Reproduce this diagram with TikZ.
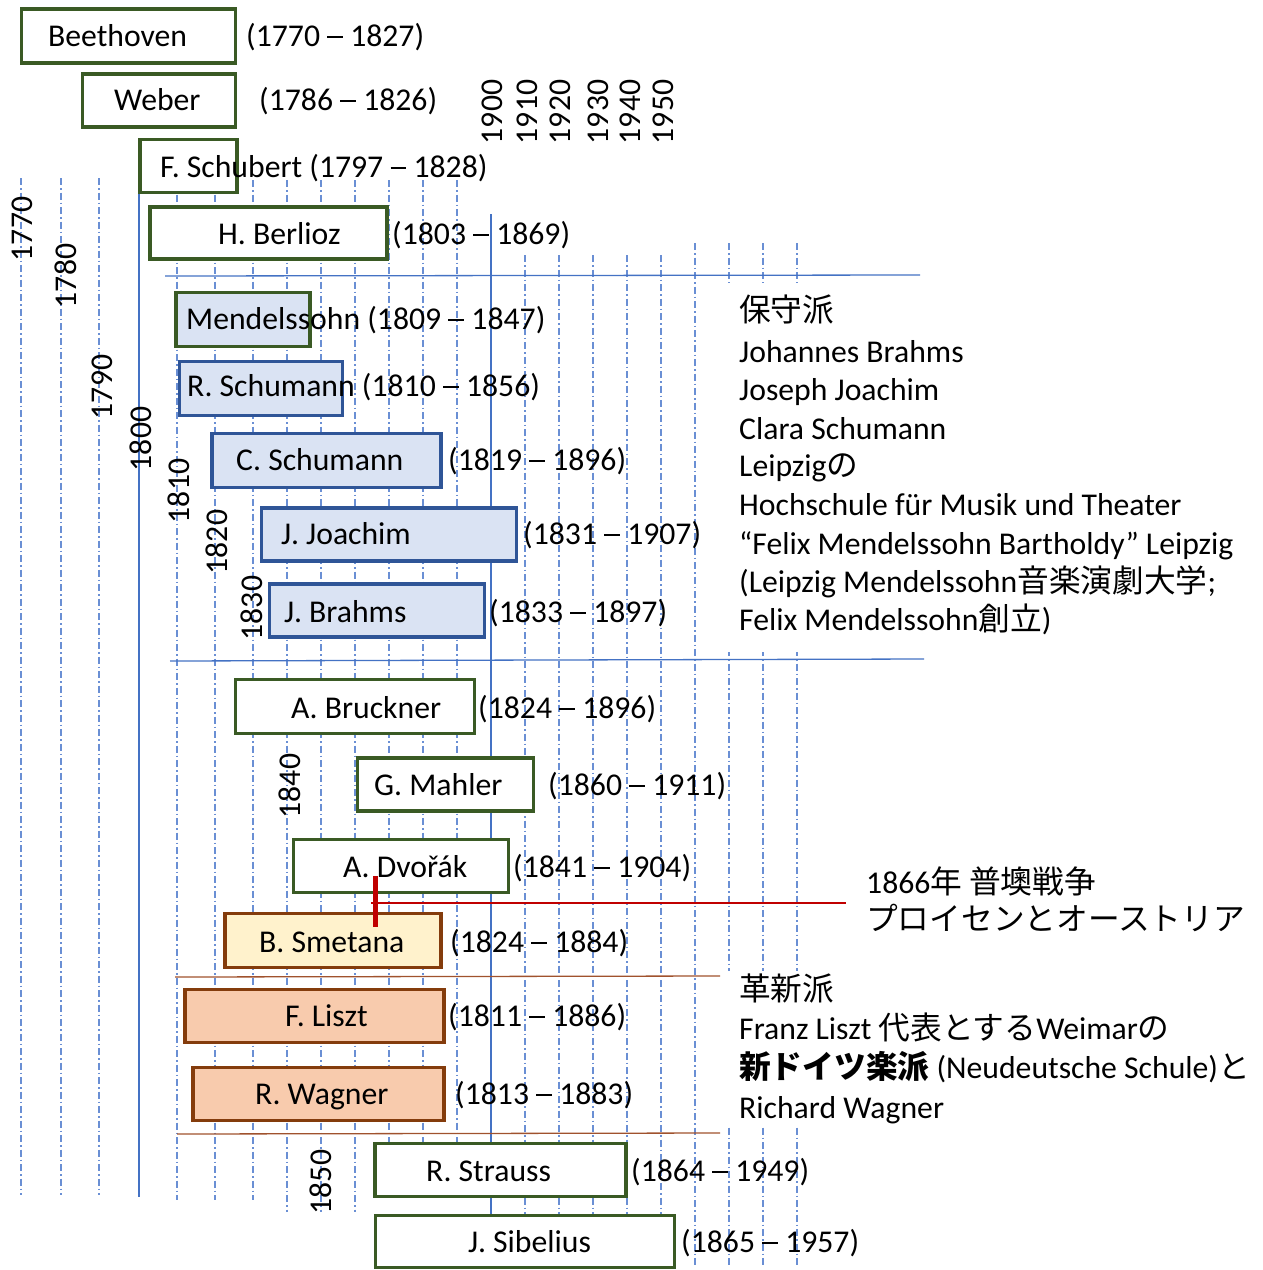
\documentclass[tikz,border=0pt]{standalone}
\usepackage{fontspec}
\setmainfont{Carlito}
\newfontfamily\cjk{Noto Sans CJK JP}
\newcommand\jtext[1]{{\cjk #1}}
\newcommand\yrdash{\rule[0.24em]{0.5em}{0.065em}}
\definecolor{gridblue}{HTML}{6A8FD4}
\definecolor{axisblue}{HTML}{4472C4}
\definecolor{boxgreen}{HTML}{3A5A24}
\definecolor{boxblue}{HTML}{2F5597}
\definecolor{fillblue}{HTML}{DAE3F3}
\definecolor{boxbrown}{HTML}{843C0C}
\definecolor{fillyellow}{HTML}{FFF2CC}
\definecolor{fillpeach}{HTML}{F8CBAD}
\definecolor{linebrown}{HTML}{A0522D}
\definecolor{warred}{HTML}{C00000}
\begin{document}
\begin{tikzpicture}[x=1pt,y=-1pt,
  every node/.style={font=\fontsize{31.7}{38}\selectfont},
  gridl/.style={draw=gridblue, line width=1.4pt, dash pattern=on 7pt off 3pt on 1.5pt off 3pt},
  axisl/.style={draw=axisblue, line width=1.6pt},
  hblue/.style={draw=axisblue, line width=1.3pt},
  hbrown/.style={draw=linebrown, line width=1.3pt},
  boxbase/.style={line width=3.2pt, inner sep=0pt, outer sep=0pt, anchor=north west},
  gbox/.style={boxbase, draw=boxgreen, fill=white},
  bgbox/.style={boxbase, draw=boxgreen, fill=fillblue},
  bbox/.style={boxbase, draw=boxblue, fill=fillblue},
  ybox/.style={boxbase, draw=boxbrown, fill=fillyellow},
  pbox/.style={boxbase, draw=boxbrown, fill=fillpeach},
  lbl/.style={anchor=west, inner sep=0pt, text height=22pt, text depth=7pt},
  yr/.style={rotate=90, inner sep=0pt}
]
\useasboundingbox (0,0) rectangle (1263,1270);
\fill[white] (0,0) rectangle (1263,1270);

% grid lines
\foreach \x in {21,61,99} \draw[gridl] (\x,178) -- (\x,1195);
\foreach \x in {177,215,253} \draw[gridl] (\x,180) -- (\x,1200);
\foreach \x in {287,321,355} \draw[gridl] (\x,180) -- (\x,1212);
\foreach \x in {389,423,457} \draw[gridl] (\x,180) -- (\x,1143);
\foreach \x in {525,559,593,627,661} \draw[gridl] (\x,255) -- (\x,1265);
\foreach \x in {695,729,763,797} \draw[gridl] (\x,243) -- (\x,1265);
\draw[axisl] (139,193) -- (139,1197);
\draw[axisl] (491,214) -- (491,1240);

% white backgrounds of the text blocks
\fill[white] (714,283) rectangle (1250,652);
\fill[white] (716,971) rectangle (1255,1126);

% separators
\draw[hblue] (165,276) -- (920,275);
\draw[hblue] (170,661) -- (924,659);
\draw[hbrown] (175,977) -- (720,976);
\draw[hbrown] (177,1134) -- (720,1133);
\coordinate (warL) at (371,903);
\coordinate (warR) at (846,903);
\draw[warred, line width=1.4pt] (warL) -- (warR);

% composer boxes
\node[gbox, minimum width=214pt, minimum height=54pt] (beet) at (21.5,9) {};
\node[gbox, minimum width=153pt, minimum height=53pt] (weber) at (82.5,74) {};
\node[gbox, minimum width=97pt, minimum height=53pt] (schub) at (140,139.5) {};
\node[gbox, minimum width=237pt, minimum height=52pt] (berl) at (150,207) {};
\node[bgbox, minimum width=134pt, minimum height=54pt] (mend) at (176,292.5) {};
\node[bbox, minimum width=163pt, minimum height=54pt] (rschu) at (179.5,361.5) {};
\node[bbox, minimum width=229pt, minimum height=54pt] (cschu) at (212,433.5) {};
\node[bbox, minimum width=255pt, minimum height=53pt] (joach) at (261.5,508) {};
\node[bbox, minimum width=215pt, minimum height=53pt] (brahms) at (269.5,584) {};
\node[gbox, minimum width=239pt, minimum height=54pt] (bruck) at (235.5,679.5) {};
\node[gbox, minimum width=176pt, minimum height=53pt] (mahler) at (357.5,758) {};
\node[gbox, minimum width=215pt, minimum height=53pt] (dvorak) at (293.5,839.5) {};
\node[ybox, minimum width=216pt, minimum height=54pt] (smet) at (225,913.5) {};
\node[pbox, minimum width=259pt, minimum height=53pt] (liszt) at (185,989.5) {};
\node[pbox, minimum width=251pt, minimum height=53pt] (wagner) at (193,1067.5) {};
\node[gbox, minimum width=251pt, minimum height=53pt] (strauss) at (375,1143.5) {};
\node[gbox, minimum width=299pt, minimum height=52pt] (sibel) at (375.5,1215.5) {};

% names and dates
\node[lbl] (tbeet) at (48,38.5) {Beethoven};
\node[lbl] (dbeet) at (246,38.5) {(1770 \yrdash{} 1827)};
\node[lbl] (tweber) at (114,102.5) {Weber};
\node[lbl] (dweber) at (259,102.5) {(1786 \yrdash{} 1826)};
\node[lbl] (tschub) at (160,169.5) {F. Schubert (1797 \yrdash{} 1828)};
\node[lbl] (tberl) at (218,236.5) {H. Berlioz};
\node[lbl] (dberl) at (392,236.5) {(1803 \yrdash{} 1869)};
\node[lbl] (tmend) at (186,321.5) {Mendelssohn (1809 \yrdash{} 1847)};
\node[lbl] (trschu) at (187,388.5) {R. Schumann (1810 \yrdash{} 1856)};
\node[lbl] (tcschu) at (236,462.5) {C. Schumann};
\node[lbl] (dcschu) at (448,462.5) {(1819 \yrdash{} 1896)};
\node[lbl] (tjoach) at (281,536.5) {J. Joachim};
\node[lbl] (djoach) at (523,536.5) {(1831 \yrdash{} 1907)};
\node[lbl] (tbrahms) at (284,614.5) {J. Brahms};
\node[lbl] (dbrahms) at (489,614.5) {(1833 \yrdash{} 1897)};
\node[lbl] (tbruck) at (291,710.5) {A. Bruckner};
\node[lbl] (dbruck) at (478,710.5) {(1824 \yrdash{} 1896)};
\node[lbl] (tmahler) at (374,787.5) {G. Mahler};
\node[lbl] (dmahler) at (548,787.5) {(1860 \yrdash{} 1911)};
\node[lbl] (tdvorak) at (343,869.5) {A. Dvořák};
\node[lbl] (ddvorak) at (513,869.5) {(1841 \yrdash{} 1904)};
\node[lbl] (tsmet) at (259,944.5) {B. Smetana};
\node[lbl] (dsmet) at (450,944.5) {(1824 \yrdash{} 1884)};
\node[lbl] (tliszt) at (285,1018.5) {F. Liszt};
\node[lbl] (dliszt) at (448,1018.5) {(1811 \yrdash{} 1886)};
\node[lbl] (twagner) at (255,1096.5) {R. Wagner};
\node[lbl] (dwagner) at (455,1096.5) {(1813 \yrdash{} 1883)};
\node[lbl] (tstrauss) at (426,1173.5) {R. Strauss};
\node[lbl] (dstrauss) at (631,1173.5) {(1864 \yrdash{} 1949)};
\node[lbl] (tsibel) at (468,1244.5) {J. Sibelius};
\node[lbl] (dsibel) at (681,1244.5) {(1865 \yrdash{} 1957)};

% year labels
\node[yr] (y1770) at (22.5,229) {1770};
\node[yr] (y1780) at (65.5,276) {1780};
\node[yr] (y1790) at (102,387) {1790};
\node[yr] (y1800) at (141,439) {1800};
\node[yr] (y1810) at (179,491) {1810};
\node[yr] (y1820) at (217,542) {1820};
\node[yr] (y1830) at (252,608) {1830};
\node[yr] (y1840) at (290,786) {1840};
\node[yr] (y1850) at (321,1182) {1850};
\node[yr] (y1900) at (492,112) {1900};
\node[yr] (y1910) at (527,112) {1910};
\node[yr] (y1920) at (560,112) {1920};
\node[yr] (y1930) at (598,112) {1930};
\node[yr] (y1940) at (630,112) {1940};
\node[yr] (y1950) at (663,112) {1950};

% conservative block
\node[lbl] (c1) at (739,313.5) {\jtext{保守派}};
\node[lbl] (c2) at (739,354.5) {Johannes Brahms};
\node[lbl] (c3) at (739,392.5) {Joseph Joachim};
\node[lbl] (c4) at (739,431.5) {Clara Schumann};
\node[lbl] (c5) at (739,468.5) {Leipzig\jtext{の}};
\node[lbl] (c6) at (739,507.5) {Hochschule für Musik und Theater};
\node[lbl] (c7) at (739,546.5) {“Felix Mendelssohn Bartholdy” Leipzig};
\node[lbl] (c8) at (739,584.5) {(Leipzig Mendelssohn\jtext{音楽演劇大学};};
\node[lbl] (c9) at (739,622.5) {Felix Mendelssohn\jtext{創立})};

% war note
\node[lbl] (w1) at (866,885.5) {1866\jtext{年 普墺戦争}};
\node[lbl] (w2) at (866,922.5) {\jtext{プロイセンとオーストリア}};

% progressive block
\node[lbl] (p1) at (739,992.5) {\jtext{革新派}};
\node[lbl] (p2) at (739,1031.5) {Franz Liszt \jtext{代表とする}Weimar\jtext{の}};
\node[lbl] (p3) at (739,1070.5) {{\cjk\bfseries 新ドイツ楽派} (Neudeutsche Schule)\jtext{と}};
\node[lbl] (p4) at (739,1110.5) {Richard Wagner};

% war marker
\coordinate (warT) at (375,876);
\coordinate (warB) at (375,927);
\draw[warred, line width=5pt] (warT) -- (warB);
\end{tikzpicture}
\end{document}
